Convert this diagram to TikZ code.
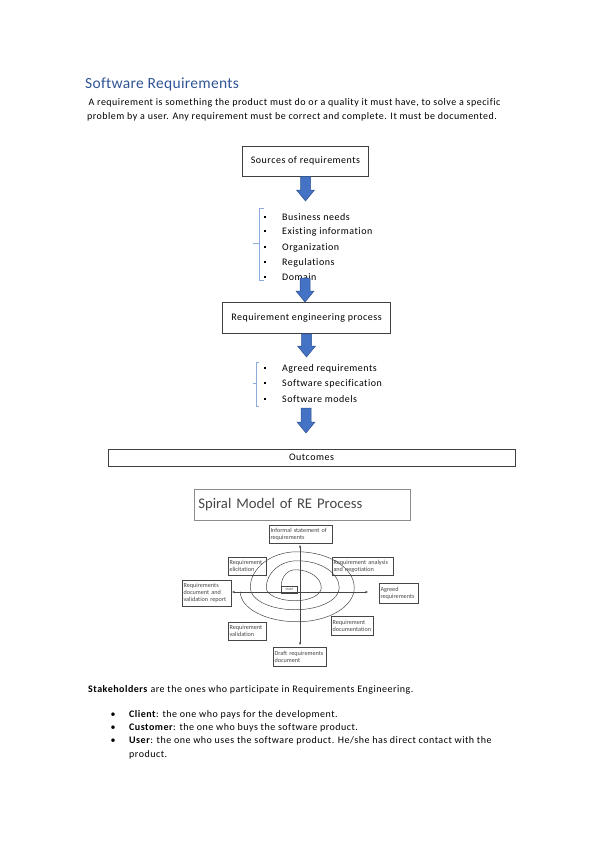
\documentclass[tikz,border=0pt]{standalone}
\usepackage{fontspec}
\setmainfont{Carlito}[LetterSpace=5,Ligatures=NoCommon]
\newfontfamily\headfont{Carlito}[LetterSpace=2,Ligatures=NoCommon]
\newfontfamily\figfont{Carlito}[Ligatures=NoCommon]
\usetikzlibrary{arrows.meta,positioning,calc}
\definecolor{Head}{RGB}{47,84,150}
\definecolor{Flow}{RGB}{68,114,196}
\definecolor{FlowEdge}{RGB}{47,82,143}
\definecolor{Brace}{RGB}{143,170,220}
\definecolor{Ink}{RGB}{70,70,70}

% block arrow straight down from #1 to #2
\newcommand{\blockarrow}[2]{%
  \draw[FlowEdge,fill=Flow,line width=0.5pt] let \p1=(#1), \p2=(#2) in
    (\x1-5,\y1) -- (\x1+5,\y1) -- (\x1+5,\y2+11) -- (\x1+9,\y2+11) -- (\x1,\y2)
    -- (\x1-9,\y2+11) -- (\x1-5,\y2+11) -- cycle;}

\begin{document}
\begin{tikzpicture}[x=1pt,y=1pt,
    txt/.style={font=\fontsize{10}{12}\selectfont,inner sep=0pt},
    box/.style={draw=black!75,line width=0.8pt,inner sep=0pt,font=\fontsize{10}{12}\selectfont},
    item/.style={txt,anchor=base west},
    fig/.style={draw=Ink,line width=0.5pt,text=Ink,align=left,inner xsep=1.5pt,inner ysep=0pt,
      font=\figfont\fontsize{6.2}{7}\selectfont,execute at begin node=\hyphenpenalty10000\relax},
    axis/.style={Ink,line width=0.5pt,{Stealth[length=3pt,width=2.4pt]}-{Stealth[length=3pt,width=2.4pt]}}]
  \useasboundingbox (0,0) rectangle (599,-848);

  % heading and intro
  \node[anchor=base west,inner sep=0pt,text=Head,font=\headfont\fontsize{15.5}{18}\selectfont] (title) at (85,-89) {Software Requirements};
  \node[txt,anchor=base] (intro1) at (294.5,-106) {A requirement is something the product must do or a quality it must have, to solve a specific};
  \node[txt,anchor=base] (intro2) at (292,-120) {problem by a user. Any requirement must be correct and complete. It must be documented.};

  % flow
  \node[box,minimum width=126pt,minimum height=30pt] (src) at (305.5,-161) {Sources of requirements};
  \coordinate (t1) at (305,-201);
  \blockarrow{src.south}{t1}

  \foreach \txt/\y [count=\i] in {Business needs/217,Existing information/231,Organization/247,Regulations/262,Domain/277}
  {
    \fill (264,-\y-1.1) rectangle ++(2.2,2.2);
    \node[item] (need\i) at (282,-\y-3.3) {\txt};
  }
  \draw[Brace,line width=0.6pt] (264,-208) -- (259,-208) -- (259,-280) -- (264,-280);
  \draw[Brace,line width=0.6pt] (253,-243) -- (259,-243);

  \node[box,minimum width=168pt,minimum height=31pt] (rep) at (306.5,-318) {Requirement engineering process};
  \coordinate (s2) at (305,-278);
  \blockarrow{s2}{rep.north}

  \coordinate (t3) at (305,-357);
  \blockarrow{rep.south}{t3}

  \foreach \txt/\y [count=\i] in {Agreed requirements/368,Software specification/383,Software models/399}
  {
    \fill (264,-\y-1.1) rectangle ++(2.2,2.2);
    \node[item] (out\i) at (282,-\y-3.3) {\txt};
  }
  \draw[Brace,line width=0.6pt] (259,-362) -- (256,-362) -- (256,-406) -- (259,-406);
  \draw[Brace,line width=0.6pt] (253,-383) -- (256,-383);

  \node[box,minimum width=407pt,minimum height=17pt] (outc) at (311.5,-457.5) {Outcomes};
  \coordinate (s4) at (306,-408);
  \coordinate (t4) at (306,-433);
  \blockarrow{s4}{t4}

  % spiral model figure
  \node[draw=black!45,line width=0.6pt,anchor=west,text=Ink,text width=208pt,align=left,
    minimum height=31pt,inner xsep=4pt,font=\figfont\fontsize{14.7}{17}\selectfont] (sptitle) at (194,-504.5) {Spiral Model of RE Process};

  \foreach \name/\cx/\cy/\w/\h/\lbl in {
    inf/300.5/534/63/18/{Informal~statement~of\\requirements},
    elic/247/566/38/18/{Requirement\\elicitation},
    anal/362.5/566/61/18/{Requirement~analysis\\and~negotiation},
    rdoc/206.5/593/49/26/{Requirements\\document~and\\validation~report},
    agr/398.5/593/39/20/{Agreed\\requirements},
    valid/247/631/38/18/{Requirement\\validation},
    docu/352/625.5/42/19/{Requirement\\documentation},
    draft/299.5/656.5/53/19/{Draft~requirements\\document}}
  {
    \node[fig,text width=\w pt-3pt,minimum height=\h pt] (\name) at (\cx,-\cy) {\lbl};
  }
  \node[fig,inner xsep=1pt,minimum width=16pt,minimum height=7pt,align=center,font=\figfont\fontsize{3.2}{4}\selectfont] (start) at (289.5,-589.5) {START};

  \coordinate (vtop) at (300,-545);
  \coordinate (vbot) at (300,-645);
  \coordinate (hl) at (232,-592);
  \coordinate (hr) at (368,-592);
  \draw[axis] (vbot) -- (vtop);
  \draw[axis] (hl) -- (hr);

  \draw[Ink,line width=0.5pt] (start.north west)
    arc[start angle=180,end angle=90,x radius=14,y radius=16]
    arc[start angle=90,end angle=0,x radius=26,y radius=18]
    arc[start angle=0,end angle=-90,x radius=26,y radius=13]
    arc[start angle=-90,end angle=-180,x radius=29,y radius=13]
    arc[start angle=180,end angle=90,x radius=31,y radius=27]
    arc[start angle=90,end angle=0,x radius=42,y radius=27]
    arc[start angle=0,end angle=-90,x radius=44,y radius=22]
    arc[start angle=-90,end angle=-180,x radius=45,y radius=22]
    arc[start angle=180,end angle=90,x radius=47,y radius=36]
    arc[start angle=90,end angle=0,x radius=57,y radius=36]
    arc[start angle=0,end angle=-90,x radius=57,y radius=34]
    arc[start angle=-90,end angle=-180,x radius=57,y radius=30];

  % stakeholders
  \node[txt,anchor=base west] (stake) at (88,-692) {\textbf{Stakeholders} are the ones who participate in Requirements Engineering.};
  \foreach \who/\what/\y [count=\i] in {
    Client/{the one who pays for the development.}/717,
    Customer/{the one who buys the software product.}/730,
    User/{the one who uses the software product. He/she has direct contact with the}/743}
  {
    \node[txt,anchor=base] (dot\i) at (113,-\y) {•};
    \node[txt,anchor=base west] (role\i) at (129,-\y) {\textbf{\who}: \what};
  }
  \node[txt,anchor=base west] (role4) at (129,-757) {product.};
\end{tikzpicture}
\end{document}
